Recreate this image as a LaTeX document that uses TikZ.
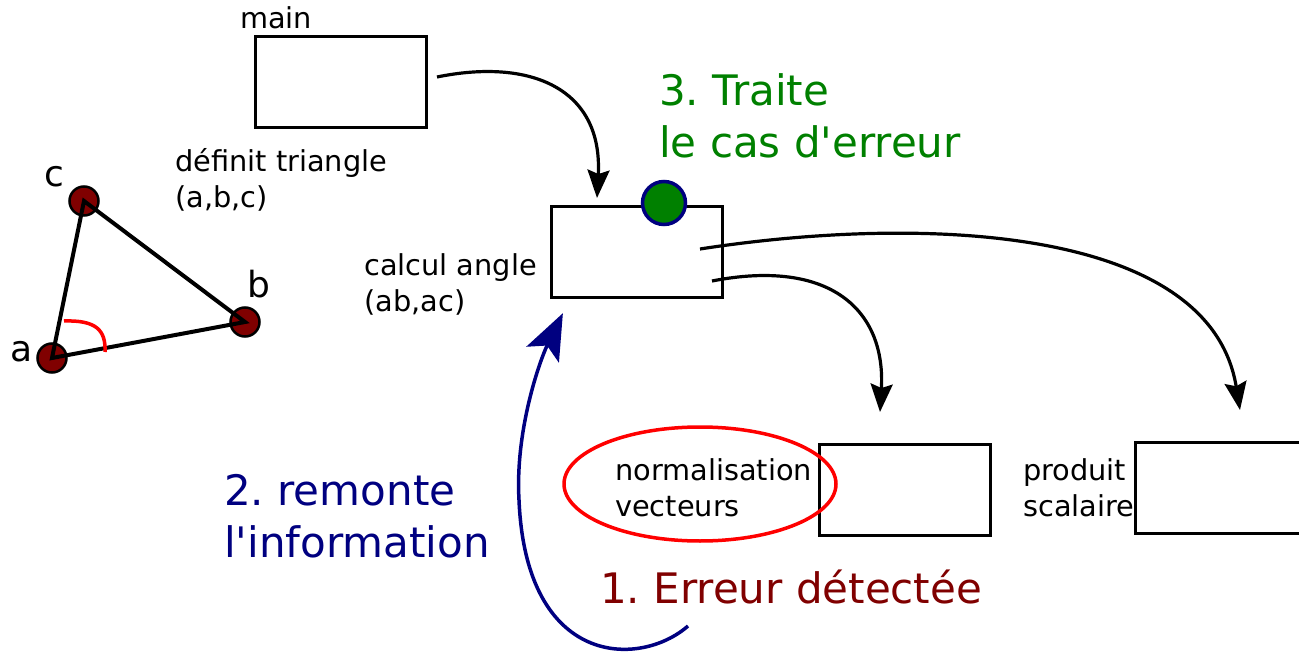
\documentclass[tikz,border=0pt]{standalone}
\usepackage{fontspec}
\setmainfont{DejaVu Sans}
\usetikzlibrary{arrows.meta}
\definecolor{dred}{HTML}{800000}
\definecolor{dnavy}{HTML}{000080}
\definecolor{dgreen}{HTML}{008000}
\begin{document}
\frenchspacing
\begin{tikzpicture}[x=1pt,y=-1pt,
  box/.style={draw,line width=3pt,minimum width=171pt,minimum height=91pt,inner sep=0pt},
  small/.style={font=\fontsize{28.8}{36}\selectfont,inner sep=0pt,anchor=base west,align=left},
  big/.style={font=\fontsize{42}{52}\selectfont,inner sep=0pt,anchor=base west,align=left},
  ptlabel/.style={font=\fontsize{36}{44}\selectfont,inner sep=0pt,anchor=base west},
  vertex/.style={circle,draw,line width=2.5pt,fill=dred,minimum size=29pt,inner sep=0pt},
  conn/.style={line width=3.2pt,-{Stealth[length=28pt,width=22pt,inset=4pt]}},
  back/.style={line width=3.5pt,dnavy,-{Stealth[length=46pt,width=36pt,inset=10pt]},shorten >=-2pt}]
\useasboundingbox (0,0) rectangle (1299,652);
% boxes
\node[box] (main) at (341,82.5) {};
\node[box] (calc) at (636.5,252.5) {};
\node[box] (norm) at (904.5,490) {};
\node[box] (prod) at (1221,488) {};
% labels
\node[small] (lmain) at (240,29) {main};
\node[small] (ldef) at (175,208) {définit triangle\\(a,b,c)};
\node[small] (lcalc) at (364,312) {calcul angle\\(ab,ac)};
\node[small] (lnorm) at (615,516) {normalisation\\vecteurs};
\node[small] (lprod) at (1023,516) {produit\\scalaire};
% error circle
\node[circle,draw=dnavy,fill=dgreen,line width=3.5pt,minimum size=43pt,inner sep=0pt] (err) at (664,203) {};
% big texts
\node[big,text=dgreen] (t3) at (659,158) {3. Traite\\le cas d\textquotesingle erreur};
\node[big,text=dnavy] (t2) at (224,557) {2. remonte\\l\textquotesingle information};
\node[big,text=dred] (t1) at (600,603) {1. Erreur détectée};
% red ellipse
\draw[red,line width=3.5pt] (700,484) ellipse [x radius=136, y radius=57];
% triangle
\node[vertex] (a) at (52,358) {};
\node[vertex] (b) at (245,322) {};
\node[vertex] (c) at (84,201) {};
\draw[line width=4pt,line join=miter] (a.center) -- (b.center) -- (c.center) -- cycle;
\draw[red,line width=3.5pt] (64,321) .. controls (96,320) and (106,330) .. (105,352);
\node[ptlabel] (la) at (10,362) {a};
\node[ptlabel] (lb) at (247,298) {b};
\node[ptlabel] (lc) at (44,187) {c};
% connectors
\coordinate (m1) at (437,77);
\coordinate (c1) at (597,198);
\draw[conn] (m1) .. controls (530,58) and (603,88) .. (c1);
\coordinate (c2) at (712,281);
\coordinate (n1) at (880,412);
\draw[conn] (c2) .. controls (830,258) and (886,310) .. (n1);
\coordinate (c3) at (700,249);
\coordinate (p1) at (1240,410);
\draw[conn] (c3) .. controls (920,215) and (1210,225) .. (p1);
\coordinate (e1) at (688,626);
\coordinate (k1) at (519,500);
\coordinate (k2) at (562,315);
\draw[back] (e1) .. controls (640,668) and (526,668) .. (k1) .. controls (515,430) and (540,360) .. (k2);
\end{tikzpicture}
\end{document}
